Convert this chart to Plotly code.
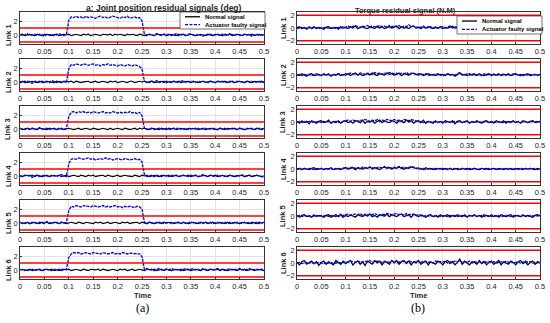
import numpy as np
import plotly.graph_objects as go

# ---------------- data ----------------
time = np.round(np.linspace(0, 0.5, 101), 4)
x_ticks = [0, 0.05, 0.1, 0.15, 0.2, 0.25, 0.3, 0.35, 0.4, 0.45, 0.5]
links = ["Link 1", "Link 2", "Link 3", "Link 4", "Link 5", "Link 6"]
pos_threshold = [1, -1]
torque_threshold = [2, -2]

# joint position residuals: normal signal
LN1 = [0,.1,-.1,0,.1,0,-.1,.1,0,-.1,.1,.1,0,-.1,0,.1,-.1,0,.1,0,
       .1,-.1,0,.1,0,-.1,.1,0,.1,-.1,0,.1,0,-.1,.1,0,0,.1,-.1,.1,
       0,.1,0,-.1,.1,0,.1,0,-.1,.1,0,-.1,0,.1,0,-.1,.1,0,0,.1,
       -.1,0,.1,0,-.1,.1,0,.1,-.1,0,.1,0,-.1,0,.1,0,-.1,.1,0,-.1,
       .1,0,0,-.1,.1,0,.1,-.1,0,.1,0,-.1,.1,0,0,.1,-.1,0,.1,0,0]
LN2 = [-.1,0,.1,-.1,0,.1,0,-.1,0,.1,-.1,.1,0,0,-.1,.1,0,-.1,.1,0,
       0,.1,-.1,.1,0,-.1,0,.1,.1,-.1,0,.1,-.1,0,.1,0,-.1,.1,0,.1,
       -.1,0,.1,0,-.1,.1,.1,-.1,0,.1,0,.1,-.1,0,.1,-.1,0,0,.1,-.1,
       .1,0,-.1,.1,0,.1,-.1,0,0,.1,-.1,.1,0,-.1,0,.1,0,-.1,.1,0,
       -.1,.1,0,0,.1,-.1,0,.1,-.1,0,.1,0,-.1,.1,0,-.1,.1,0,0,.1,-.1]
LN3 = [.1,-.1,0,.1,-.1,.1,0,-.1,.1,0,0,-.1,.1,0,.1,-.1,0,.1,-.1,0,
       .1,0,-.1,0,.1,-.1,0,.1,0,-.1,.1,0,-.1,0,.1,0,-.1,.1,-.1,0,
       .1,0,-.1,.1,0,-.1,0,.1,-.1,.1,0,.1,0,-.1,.1,0,0,-.1,.1,0,
       -.1,.1,0,.1,-.1,0,.1,0,-.1,.1,0,0,.1,-.1,0,.1,-.1,0,.1,0,
       0,-.1,.1,0,-.1,.1,0,0,.1,-.1,.1,0,-.1,0,.1,0,-.1,.1,0,-.1,.1]
LN4 = [0,-.1,.1,0,0,.1,-.1,.1,0,-.1,0,.1,-.1,0,.1,0,.1,-.1,0,.1,
       -.1,0,.1,0,-.1,.1,0,-.1,.1,0,.1,-.1,0,0,.1,-.1,.1,0,-.1,0,
       .1,-.1,0,.1,0,0,-.1,.1,0,-.1,.1,0,.1,-.1,0,.1,0,-.1,.1,0,
       0,.1,-.1,0,.1,-.1,0,.1,0,.1,-.1,0,.1,-.1,0,0,.1,-.1,.1,0,
       .1,-.1,0,.1,0,-.1,.1,0,-.1,0,.1,.1,-.1,0,.1,-.1,0,.1,0,-.1,0]
LN5 = [.1,0,-.1,.1,-.1,0,.1,0,-.1,.1,0,.1,-.1,0,0,.1,-.1,.1,0,-.1,
       0,.1,0,-.1,.1,0,-.1,.1,0,0,-.1,.1,0,.1,-.1,0,.1,-.1,0,.1,
       0,-.1,.1,0,.1,-.1,0,0,.1,-.1,.1,0,-.1,.1,0,-.1,0,.1,-.1,.1,
       0,0,.1,-.1,0,.1,-.1,.1,0,-.1,0,.1,0,-.1,.1,0,.1,-.1,0,.1,
       -.1,0,.1,0,-.1,.1,-.1,0,.1,0,-.1,.1,0,0,-.1,.1,0,-.1,.1,0,.1]
LN6 = [0,.1,0,-.1,.1,-.1,0,.1,0,-.1,.1,0,0,.1,-.1,0,.1,-.1,.1,0,
       .1,-.1,0,.1,0,-.1,.1,0,-.1,.1,0,0,.1,-.1,.1,0,-.1,0,.1,0,
       -.1,.1,0,.1,-.1,0,.1,-.1,0,.1,0,-.1,.1,0,0,.1,-.1,0,.1,-.1,
       .1,0,-.1,0,.1,0,.1,-.1,0,.1,-.1,0,.1,0,-.1,.1,0,-.1,.1,0,
       0,.1,-.1,.1,0,-.1,0,.1,0,-.1,.1,0,.1,-.1,0,.1,-.1,0,.1,0,-.1]

# joint position residuals: actuator faulty signal
LF1 = [.1,-.1,0,.2,-.1,0,.1,-.1,.1,0,-.2,.1,0,.1,-.1,0,.2,0,-.1,.1,
       2.1,2.6,2.5,2.7,2.5,2.6,2.4,2.7,2.5,2.6,2.5,2.4,2.6,2.7,2.5,2.6,2.4,2.5,2.7,2.6,
       2.5,2.4,2.6,2.5,2.7,2.4,2.5,2.6,2.4,2.5,2.0,.1,-.1,.1,0,-.1,.2,0,-.1,.1,
       0,.1,-.1,0,.2,-.1,.1,0,-.1,.1,.2,0,-.1,.1,0,-.2,.1,0,.1,-.1,
       0,.1,-.1,.1,0,-.1,.2,0,-.1,.1,0,-.1,.1,0,.1,-.2,0,.1,-.1,0,.1]
LF2 = [0,.1,-.1,.1,0,-.2,.1,0,.1,-.1,.1,0,-.1,.2,0,-.1,.1,0,.1,-.1,
       1.9,2.5,2.4,2.6,2.5,2.4,2.6,2.5,2.4,2.5,2.6,2.4,2.5,2.3,2.5,2.4,2.6,2.4,2.5,2.4,
       2.3,2.5,2.4,2.3,2.5,2.4,2.3,2.5,2.4,2.2,1.9,.1,0,-.1,.1,0,.2,-.1,0,.1,
       -.1,.1,0,.1,-.1,0,.1,.2,-.1,0,.1,0,-.1,.1,0,.1,-.1,0,.1,0,
       -.1,.1,0,.1,-.1,0,.1,0,-.1,.1,.1,0,-.1,.1,0,.1,-.1,0,.1,-.1,0]
LF3 = [.1,0,-.1,.1,0,.1,-.1,0,.2,-.1,0,.1,-.1,.1,0,-.1,.1,0,-.1,.1,
       1.8,2.4,2.5,2.3,2.5,2.4,2.5,2.3,2.4,2.3,2.5,2.4,2.3,2.4,2.5,2.3,2.4,2.3,2.5,2.4,
       2.3,2.4,2.3,2.4,2.3,2.5,2.3,2.4,2.2,2.4,1.9,.1,-.1,0,.1,-.1,0,.1,0,-.1,
       .1,0,-.1,.1,0,.2,-.1,0,.1,-.1,0,.1,0,.1,-.1,0,.1,-.1,0,.1,
       0,-.1,.1,0,.1,-.1,0,.1,0,-.1,.1,0,-.1,.1,0,.1,-.1,0,.1,0,.1]
LF4 = [0,-.1,.1,0,.1,-.2,0,.1,-.1,0,.1,0,-.1,.1,0,-.1,.1,.2,0,-.1,
       1.8,2.4,2.5,2.4,2.6,2.5,2.4,2.5,2.6,2.4,2.5,2.3,2.4,2.5,2.4,2.6,2.4,2.5,2.3,2.4,
       2.5,2.4,2.3,2.5,2.4,2.3,2.4,2.5,2.3,2.4,2.0,.2,-.1,0,.1,-.1,.1,0,-.1,.1,
       0,-.1,.1,0,.1,-.1,0,.1,0,-.1,.1,0,.1,-.1,0,.2,0,-.1,.1,0,
       -.1,.1,0,.1,-.1,0,.1,0,-.1,.1,0,.2,-.1,0,.1,-.1,0,.1,0,-.1,-.2]
LF5 = [.1,-.1,0,.1,-.1,.1,0,-.1,.1,0,-.1,.2,0,-.1,.1,0,-.1,.1,0,.1,
       1.8,2.4,2.3,2.5,2.4,2.3,2.5,2.4,2.4,2.3,2.5,2.4,2.3,2.4,2.5,2.3,2.4,2.3,2.4,2.5,
       2.3,2.4,2.2,2.4,2.3,2.4,2.3,2.2,2.4,2.3,2.0,.1,-.1,.1,0,-.1,.1,0,.1,-.1,
       0,.1,-.1,0,.1,0,-.1,.1,-.1,0,.2,0,-.1,.1,0,-.1,.1,0,.1,-.1,
       0,.1,-.1,0,.1,-.1,.1,0,-.1,.1,0,-.1,.1,0,.1,-.1,0,.1,-.1,0,.1]
LF6 = [.1,0,-.1,.1,0,.1,-.1,0,.1,-.1,0,.1,0,-.1,.1,0,-.1,.1,0,.1,
       1.8,2.3,2.5,2.4,2.5,2.3,2.4,2.5,2.4,2.3,2.5,2.4,2.4,2.3,2.5,2.4,2.3,2.4,2.5,2.3,
       2.4,2.3,2.5,2.4,2.3,2.4,2.4,2.3,2.4,2.3,1.9,.1,.2,0,.1,-.1,.1,.2,0,.1,
       .1,0,.2,.1,0,.1,-.1,.1,.2,0,.1,.2,0,.1,-.1,.2,.1,0,.1,0,
       .1,.2,0,.1,-.1,.1,.2,0,.1,0,.2,.1,-.1,.1,.2,0,.1,.1,0,.1,0]

# torque residuals: normal signal
RN1 = [0,.2,-.1,.1,-.2,.1,0,.2,-.1,.1,0,-.2,.1,.2,-.1,0,.1,-.2,.2,0,
       .1,-.1,.2,0,.3,-.1,.1,.2,0,-.1,.2,.1,-.1,.3,0,.2,-.1,.1,.2,0,
       .1,.3,-.1,.2,0,.1,-.1,.2,.3,0,.1,-.1,.2,0,.1,.2,-.1,.1,0,.2,
       -.1,.1,0,.2,.3,0,.1,.4,-.1,.2,0,.1,-.1,.2,0,.1,-.2,.1,.2,0,
       .1,-.1,.2,0,.1,-.1,.2,0,.1,-.2,.1,.2,0,-.1,.1,0,.2,-.1,.1,0,.1]
RN2 = [.1,-.1,.2,0,-.2,.1,.2,-.1,0,.1,-.1,.2,0,.1,-.2,.1,0,.2,-.1,.1,
       0,.2,-.1,.1,.3,0,.2,-.1,.1,.2,0,.3,.1,-.1,.2,.1,0,.3,.1,.2,
       0,.1,.3,-.1,.2,.1,0,.2,.3,.1,0,.2,-.1,.1,.2,0,.1,-.1,.2,0,
       .1,-.1,.2,0,.1,-.2,.1,.3,0,.1,-.1,.2,0,.1,-.1,.2,0,-.1,.1,.2,
       -.1,.1,0,.2,-.1,.1,0,.2,-.1,.1,.2,0,-.1,.1,0,.2,-.1,0,.1,0,.1]
RN3 = [.1,-.2,.2,-.1,.1,-.3,.2,0,-.2,.1,.2,-.1,0,.3,-.2,.1,-.1,.2,-.2,.1,
       .2,-.1,.1,-.2,.2,.1,-.1,.3,-.2,.1,0,.2,-.2,.1,.3,-.1,.2,0,-.1,.2,
       .1,-.2,.2,.1,-.1,.3,0,.2,-.2,.1,.2,-.1,.3,-.2,.1,0,-.2,.2,-.1,.1,
       -.2,.2,0,-.1,.2,-.3,.1,.2,-.1,0,.2,-.2,.1,-.1,.2,0,-.2,.1,.2,-.1,
       .1,-.2,.2,0,-.1,.2,-.2,.1,0,.2,-.1,.1,-.2,.2,0,-.1,.1,.2,-.1,0,.1]
RN4 = [0,.1,-.1,.1,0,-.1,.1,.2,-.1,0,.1,-.1,.1,0,.2,-.1,.1,0,-.1,.1,
       .2,0,.1,.2,-.1,.2,.1,0,.2,.1,.3,0,.2,.1,-.1,.2,.3,.1,.2,0,
       .2,.1,.3,.1,0,.2,.1,.3,.2,.1,0,.1,-.1,.2,0,.1,-.1,.1,0,.1,
       -.1,.1,0,.1,-.1,0,.1,-.1,.1,0,.1,-.1,0,.1,0,-.1,.1,0,.1,-.1,
       0,.1,-.1,.1,0,-.1,.1,0,.1,-.1,0,.1,0,-.1,.1,0,.1,0,-.1,.1,0]
RN5 = [.1,-.2,.1,.2,-.1,0,-.2,.2,-.1,.1,0,-.2,.1,.2,-.2,0,.2,-.1,.3,-.2,
       .1,-.1,.2,0,-.2,.2,.1,-.1,.2,0,.3,-.1,.1,-.2,.2,.1,0,.3,-.1,.2,
       .1,-.1,.2,.3,-.1,.1,.2,-.2,.3,.1,-.1,.2,0,-.2,.1,.2,-.1,.1,-.2,.2,
       -.1,0,.2,-.2,.1,-.1,.2,0,-.1,.2,-.2,.1,0,.2,-.1,.1,-.2,.2,0,-.1,
       .2,-.1,.1,-.2,.2,0,-.1,.1,.2,-.2,.1,0,-.1,.2,-.1,.1,0,-.2,.1,.2,0]
RN6 = [.1,-.3,.2,.4,-.2,0,.3,-.1,.2,-.4,.1,.3,-.2,.2,0,-.3,.4,.1,-.2,.3,
       -.1,.2,.4,-.3,.1,.3,-.2,.2,-.4,.3,.1,-.2,.4,0,.3,-.3,.2,.1,-.2,.4,
       0,.3,-.2,.2,.4,-.1,.3,-.3,.2,0,.4,-.2,.1,.3,-.3,.2,0,-.2,.3,.1,
       -.3,.2,.4,-.1,.2,-.3,.1,.6,-.2,.3,0,-.3,.2,.1,-.2,.4,-.1,.2,-.3,.1,
       .3,-.2,.1,.4,-.3,.2,0,-.2,.3,.1,-.3,.2,.4,-.1,.2,-.3,.1,.3,-.2,.1,0]

# torque residuals: actuator faulty signal
RF1 = [.1,0,.1,-.1,0,.2,-.1,.1,0,-.1,.1,0,.2,-.1,0,.1,-.1,.1,0,.2,
       .1,.3,.1,.2,.4,.2,.1,.3,.2,.4,.1,.3,.2,.1,.4,.2,.3,.1,.4,.2,
       .3,.2,.4,.1,.3,.2,.5,.2,.3,.1,.2,.1,.3,0,.2,.1,-.1,.2,0,.1,
       .2,0,.1,.3,0,.2,.1,.3,0,.1,.2,-.1,.1,0,.2,.1,0,.2,-.1,.1,
       0,.2,-.1,.1,0,.1,-.1,.2,0,.1,-.1,.1,0,.2,-.1,.1,0,.1,-.1,.1,0]
RF2 = [0,.1,-.1,.1,0,.1,-.1,.1,.2,0,-.1,.1,0,.2,-.1,.1,0,.2,.1,0,
       .2,.1,.3,.1,.2,0,.3,.2,.1,.3,.2,.1,.4,.2,.3,.1,.3,.2,.4,.3,
       .2,.3,.1,.3,.2,.4,.1,.3,.2,.1,.2,0,.1,.2,-.1,.1,0,.2,0,.1,
       -.1,.1,.2,0,.1,0,.2,.4,.1,0,.2,0,.1,.2,0,.1,-.1,.2,0,.1,
       0,.2,-.1,.1,0,.2,0,.1,-.1,.2,.1,0,.1,-.1,.2,0,.1,0,.1,-.1,.1]
RF3 = [0,.1,-.1,.1,0,.1,-.1,.1,0,.1,-.1,.1,0,.1,-.1,0,.1,0,-.1,.1,
       .2,.3,.1,.3,.2,.1,.3,.2,.4,.2,.1,.3,.2,.4,.1,.3,.2,.4,.3,.2,
       .4,.2,.3,.1,.4,.3,.2,.4,.3,.2,0,.1,-.1,0,.1,-.1,.1,0,-.1,.1,
       0,-.1,.1,0,-.1,.1,0,.1,-.1,0,.1,-.1,0,.1,0,-.1,.1,0,.1,-.1,
       0,.1,-.1,.1,0,-.1,.1,0,-.1,.1,0,.1,-.1,0,.1,-.1,0,.1,0,.1,0]
RF4 = [0,.1,-.1,.1,0,.1,0,-.1,.1,0,.1,-.1,.1,0,.1,-.1,0,.1,0,.1,
       .2,.1,.2,.3,.1,.2,0,.3,.2,.1,.3,.2,.1,.2,.3,.1,.4,.2,.3,.1,
       .3,.2,.4,.2,.3,.1,.2,.4,.3,.1,.2,0,.1,-.1,.1,0,.1,-.1,.1,0,
       .1,0,-.1,.1,0,.1,-.1,0,.1,0,-.1,.1,0,.1,-.1,0,.1,0,-.1,.1,
       0,.1,0,-.1,.1,0,.1,-.1,0,.1,0,-.1,.1,0,.1,-.1,.1,0,.1,-.1,0]
RF5 = [0,.1,-.1,.1,0,.1,-.1,0,.1,-.1,.1,0,.1,-.1,.1,0,-.1,.1,0,.1,
       .2,.3,.1,.2,.3,.2,.4,.1,.3,.2,.3,.2,.4,.2,.1,.3,.2,.4,.3,.2,
       .3,.4,.2,.3,.1,.4,.2,.3,.2,.1,.2,0,-.1,.1,0,.1,-.1,0,.1,-.1,
       .1,0,-.1,.1,0,.1,-.1,0,.1,0,-.1,.1,0,.1,-.1,0,.1,-.1,.1,0,
       -.1,.1,0,.1,-.1,0,.1,0,-.1,.1,0,.1,-.1,.1,0,-.1,.1,0,.1,0,.1]
RF6 = [0,.1,-.1,0,.1,0,.1,-.1,0,.1,0,-.1,.1,0,.1,-.1,0,.1,0,.1,
       .2,.1,.3,.2,.1,.3,.2,.1,.3,.2,.4,.1,.2,.3,.2,.1,.3,.2,.1,.3,
       .2,.4,.1,.3,.2,.1,.3,.2,.1,.3,.2,.1,.3,.2,.1,.2,0,.3,.1,.2,
       .1,.3,0,.2,.1,.3,.2,.4,.1,.2,.1,.3,0,.2,.1,.2,0,.3,.1,.2,
       .1,.2,0,.1,.2,0,.3,.1,.2,0,.1,.2,0,.1,.3,.1,.2,0,.1,.2,.1]

pos_normal = [LN1, LN2, LN3, LN4, LN5, LN6]
pos_fault = [LF1, LF2, LF3, LF4, LF5, LF6]
tq_normal = [RN1, RN2, RN3, RN4, RN5, RN6]
tq_fault = [RF1, RF2, RF3, RF4, RF5, RF6]

# ---------------- layout helpers ----------------
W, H = 550, 323
FONT = "Liberation Sans, Arial, sans-serif"
SERIF = "Liberation Serif, Times New Roman, serif"
col_dom = [[20 / W, 264 / W], [297 / W, 540 / W]]
tops = [12, 59, 106, 153, 200, 247]
box_h = 32

fig = go.Figure()
layout = dict(
    template="none",
    width=W, height=H, margin=dict(l=0, r=0, t=0, b=0, pad=0, autoexpand=False),
    paper_bgcolor="white", plot_bgcolor="white", showlegend=False,
    font=dict(family=FONT, size=7, color="#262626"),
)

idx = 0
for col in range(2):
    for r in range(6):
        idx += 1
        xa = "xaxis" if idx == 1 else f"xaxis{idx}"
        ya = "yaxis" if idx == 1 else f"yaxis{idx}"
        xr = "x" if idx == 1 else f"x{idx}"
        yr = "y" if idx == 1 else f"y{idx}"
        top = tops[r]
        ydom = [1 - (top + box_h) / H, 1 - top / H]
        layout[xa] = dict(
            domain=col_dom[col], anchor=yr, range=[0, 0.5], tickvals=x_ticks,
            automargin=False,
            showgrid=True, gridcolor="#e3e3e3", gridwidth=0.6, zeroline=False,
            showline=True, mirror=True, linecolor="#333333", linewidth=0.7,
            ticks="inside", ticklen=2, tickcolor="#333333",
            tickfont=dict(size=7.5, family=FONT, color="#262626"),
        )
        if col == 0:
            yrange, yt = [-1.3, 3.3], [0, 2]
            thr = pos_threshold
            normal, fault = pos_normal[r], pos_fault[r]
        else:
            yrange, yt = [-2.5, 2.5], [-2, 0, 2]
            thr = torque_threshold
            normal, fault = tq_normal[r], tq_fault[r]
        layout[ya] = dict(
            domain=ydom, anchor=xr, range=yrange, tickvals=yt,
            automargin=False,
            showgrid=True, gridcolor="#e3e3e3", gridwidth=0.6, zeroline=False,
            showline=True, mirror=True, linecolor="#333333", linewidth=0.7,
            ticks="inside", ticklen=2, tickcolor="#333333",
            tickfont=dict(size=7.5, family=FONT, color="#262626"),
        )
        fig.add_trace(go.Scatter(x=time, y=normal, mode="lines", xaxis=xr, yaxis=yr,
                                 line=dict(color="black", width=1.2), name="Normal signal"))
        fig.add_trace(go.Scatter(x=time, y=fault, mode="lines", xaxis=xr, yaxis=yr,
                                 line=dict(color="#0000ff", width=1.3, dash="3px,1px"),
                                 name="Actuator faulty signal"))
        for tv in thr:
            fig.add_trace(go.Scatter(x=[0, 0.5], y=[tv, tv], mode="lines", xaxis=xr, yaxis=yr,
                                     line=dict(color="#ff0000", width=1.5), hoverinfo="skip"))

annotations = []
shapes = []

def px(x):
    return x / W

def py(y):
    return 1 - y / H

def ann(text, x, y, size, family=FONT, color="#262626", xanchor="center", angle=0):
    annotations.append(dict(text=text, x=px(x), y=py(y), xref="paper", yref="paper",
                            xanchor=xanchor, yanchor="middle", showarrow=False,
                            textangle=angle, font=dict(size=size, family=family, color=color)))

# link labels
for col, lx in [(0, 8), (1, 283)]:
    for r in range(6):
        zero_px = tops[r] + (23 if col == 0 else 16)
        ann(f"<b>{links[r]}</b>", lx, zero_px, 7.5, angle=-90)

# titles
ann("<b>a: Joint position residual signals (deg)</b>", 164, 8, 8.5)
ann("<b>Torque residual signal (N.M)</b>", 405, 10, 7.5)
# x titles
for xc in (142, 418):
    ann("<b>Time</b>", xc, 295, 7.5)
ann("(a)", 142, 308, 12, family=SERIF, color="black")
ann("(b)", 418, 308, 12, family=SERIF, color="black")

# legends (box + samples + labels)
for (x0, x1, y0, y1) in [(180, 265, 12, 29), (457, 542, 16, 34)]:
    shapes.append(dict(type="rect", xref="paper", yref="paper", x0=px(x0), x1=px(x1),
                       y0=py(y1), y1=py(y0), fillcolor="white", line=dict(color="#333333", width=0.7),
                       layer="above"))
    ya_ = y0 + (y1 - y0) * 0.28
    yb_ = y0 + (y1 - y0) * 0.74
    shapes.append(dict(type="line", xref="paper", yref="paper", x0=px(x0 + 5), x1=px(x0 + 20),
                       y0=py(ya_), y1=py(ya_), line=dict(color="black", width=1.3), layer="above"))
    shapes.append(dict(type="line", xref="paper", yref="paper", x0=px(x0 + 5), x1=px(x0 + 20),
                       y0=py(yb_), y1=py(yb_), line=dict(color="#0000ff", width=1.3, dash="3px,1.5px"),
                       layer="above"))
    ann("<b>Normal signal</b>", x0 + 23, ya_, 6, color="black", xanchor="left")
    ann("<b>Actuator faulty signal</b>", x0 + 23, yb_, 6, color="black", xanchor="left")

layout["annotations"] = annotations
layout["shapes"] = shapes
fig.update_layout(**layout)
fig.write_html("out.html", config={"displayModeBar": False},
               post_script="document.body.style.margin='0px';")
